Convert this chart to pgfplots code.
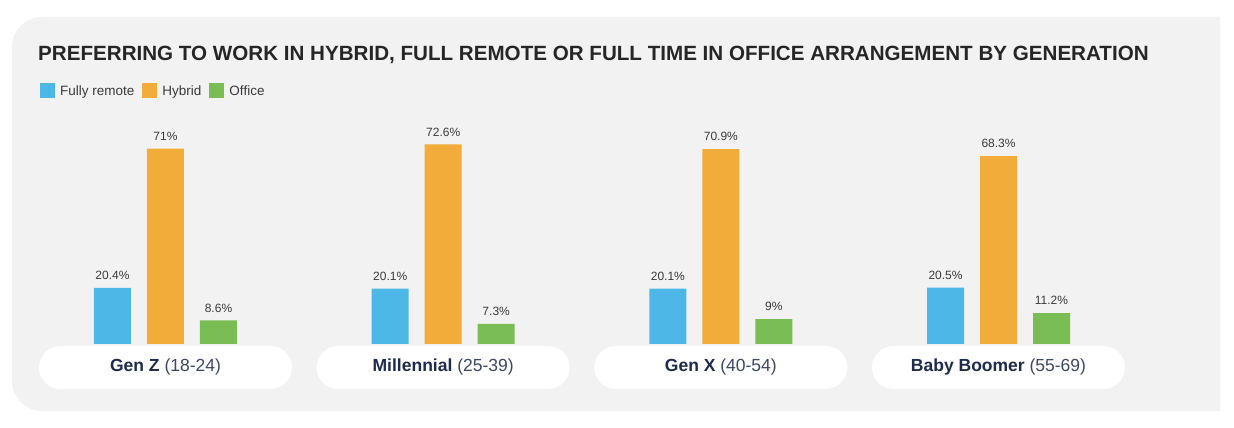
\documentclass[border=0pt]{standalone}
\usepackage{pgfplots}
\pgfplotsset{compat=1.18}
\usepackage{fontspec}
\setmainfont{Liberation Sans}
\definecolor{cblue}{HTML}{4DB8E8}
\definecolor{corange}{HTML}{F2AC3A}
\definecolor{cgreen}{HTML}{7BBD55}
\definecolor{panel}{HTML}{F2F2F2}
\definecolor{titlec}{HTML}{262626}
\definecolor{navy}{HTML}{1F2B4D}
\definecolor{navyl}{HTML}{3D4866}
\definecolor{labc}{HTML}{3A3A3A}

\pgfplotstableread{
x remote hybrid office
0 20.4 71.0 8.6
1 20.1 72.6 7.3
2 20.1 70.9 9.0
3 20.5 68.3 11.2
}\gendata

\begin{document}
\begin{tikzpicture}
\useasboundingbox (0pt,0pt) rectangle (1234pt,428pt);
\begin{scope}
\clip (0pt,0pt) rectangle (1220pt,428pt);
\fill[panel, rounded corners=30pt] (12pt,17pt) rectangle (1260pt,411pt);
\end{scope}
\node[anchor=base west, inner sep=0pt, text=titlec, font=\bfseries\fontsize{20.6}{24}\selectfont] at (38pt,367pt) {PREFERRING TO WORK IN HYBRID, FULL REMOTE OR FULL TIME IN OFFICE ARRANGEMENT BY GENERATION};
\begin{axis}[
  scale only axis,
  x=277.67pt, y=2.75pt,
  anchor=south west, at={(12pt,84pt)},
  xmin=-0.5528, xmax=3.7976, ymin=0, ymax=80,
  clip=false,
  ybar, bar width=37pt,
  axis line style={draw=none}, tick style={draw=none},
  ytick=\empty, xtick={0,1,2,3},
  xticklabels={{\textbf{Gen Z} \color{navyl}(18-24)},{\textbf{Millennial} \color{navyl}(25-39)},{\textbf{Gen X} \color{navyl}(40-54)},{\textbf{Baby Boomer} \color{navyl}(55-69)}},
  xticklabel style={fill=white, rounded corners=21.5pt, minimum width=253pt, minimum height=43pt, text=navy, font=\fontsize{17.5}{20}\selectfont, anchor=north, inner sep=0pt, yshift=2.5pt},
  nodes near coords={\pgfmathprintnumber[assume math mode=true]{\pgfplotspointmeta}\%},
  every node near coord/.append style={font=\fontsize{12}{14}\selectfont, text=labc, anchor=south, inner sep=0pt, yshift=8pt},
  legend style={at={(axis description cs:0.0232,1.186)}, anchor=north west, draw=none, fill=none, font=\fontsize{13.5}{16}\selectfont, text=labc, inner sep=0pt, /tikz/every even column/.append style={column sep=6pt}},
  legend columns=3,
  legend image code/.code={\fill[#1] (0pt,-7.5pt) rectangle (15pt,7.5pt); \path (18pt,0pt);},
]
\addplot[fill=cblue, draw=none, bar shift=-53pt] table[x=x, y=remote] {\gendata};
\addplot[fill=corange, draw=none, bar shift=0pt] table[x=x, y=hybrid] {\gendata};
\addplot[fill=cgreen, draw=none, bar shift=53pt] table[x=x, y=office] {\gendata};
\legend{Fully remote, Hybrid, Office}
\end{axis}
\end{tikzpicture}
\end{document}
